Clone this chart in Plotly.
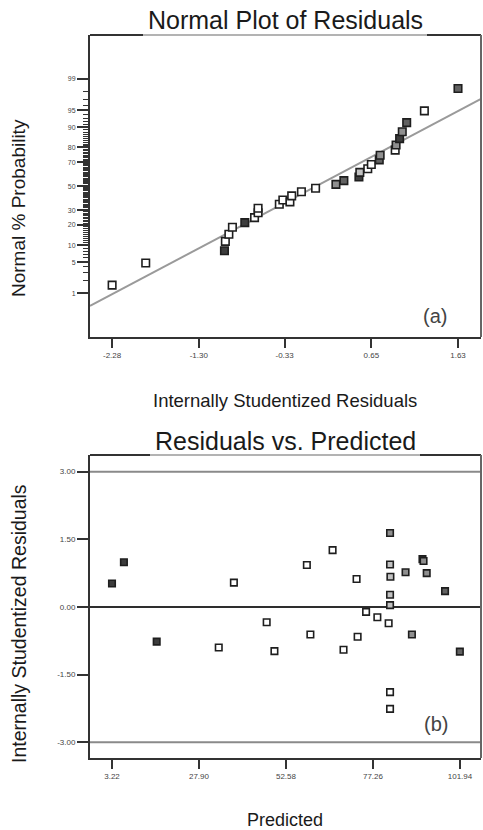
import plotly.graph_objects as go
from statistics import NormalDist

_nd = NormalDist()


def zq(p):
    return _nd.inv_cdf(p / 100.0)


# ---------------- (a) Normal plot of residuals ----------------
np_resid = [-2.28, -1.90, -1.01, -1.00, -0.96, -0.92, -0.78, -0.67, -0.63, -0.63,
            -0.39, -0.35, -0.27, -0.25, -0.14, 0.02, 0.25, 0.34, 0.51, 0.52,
            0.61, 0.65, 0.74, 0.75, 0.92, 0.93, 0.97, 1.00, 1.05, 1.25, 1.63]
np_prob = [1.6, 4.8, 8.1, 11.6, 14.9, 18.7, 21.5, 24.8, 28.3, 31.6,
           34.8, 38.2, 36.7, 41.7, 45.2, 48.2, 51.6, 54.8, 57.9, 61.8,
           64.8, 68.1, 71.6, 74.9, 78.3, 81.4, 84.9, 88.1, 91.6, 94.9, 98.3]
np_shade = ["W", "W", "K", "W", "W", "W", "K", "W", "W", "W",
            "W", "W", "W", "W", "W", "W", "G", "D", "K", "L",
            "W", "W", "D", "G", "W", "G", "K", "G", "D", "W", "D"]
fit_resid = [-2.53, 1.89]
fit_prob = [0.47, 97.1]
prob_ticks = [1, 5, 10, 20, 30, 50, 70, 80, 90, 95, 99]
prob_minor = [p for p in range(2, 99) if p not in prob_ticks]
resid_ticks = [-2.28, -1.30, -0.33, 0.65, 1.63]

# ---------------- (b) Residuals vs. predicted ----------------
pred = [3.22, 6.6, 15.9, 33.5, 37.8, 47.1, 49.3, 58.5, 59.5, 65.8,
        68.9, 72.6, 72.9, 75.3, 78.5, 81.7, 82.1, 82.1, 82.2, 82.1,
        82.1, 82.1, 82.1, 86.5, 88.3, 91.3, 91.6, 92.5, 97.7, 101.9]
rvp_resid = [0.52, 0.99, -0.77, -0.90, 0.54, -0.34, -0.98, 0.93, -0.61, 1.26,
             -0.95, 0.62, -0.66, -0.11, -0.23, -0.36, 1.64, 0.94, 0.67, 0.27,
             0.04, -1.89, -2.26, 0.77, -0.61, 1.06, 1.02, 0.75, 0.35, -0.99]
rvp_shade = ["K", "K", "K", "W", "W", "W", "W", "W", "W", "W",
             "W", "W", "W", "W", "W", "W", "G", "L", "L", "L",
             "L", "W", "W", "G", "G", "K", "G", "G", "D", "D"]
pred_ticks = [3.22, 27.90, 52.58, 77.26, 101.94]
rvp_ticks = [-3.00, -1.50, 0.00, 1.50, 3.00]
limit_lines = [3.00, -3.00]
center_line = [0.00]

SHADES = {"W": "#ffffff", "L": "#c2c2c2", "G": "#8f8f8f", "D": "#626262", "K": "#3c3c3c"}
FONT = "Liberation Sans, Arial, sans-serif"
W, H = 483, 830


def px_x(v):
    return v / W


def px_y(v):
    return 1 - v / H


fig = go.Figure()

# normal plot fit line
fig.add_trace(go.Scatter(
    x=fit_resid, y=[zq(p) for p in fit_prob], mode="lines",
    line=dict(color="#9a9a9a", width=2), xaxis="x", yaxis="y",
    hoverinfo="skip", showlegend=False))

fig.add_trace(go.Scatter(
    x=np_resid, y=[zq(p) for p in np_prob], mode="markers",
    marker=dict(symbol="square", size=7.5,
                color=[SHADES[s] for s in np_shade],
                line=dict(color="#1e1e1e", width=1.6)),
    xaxis="x", yaxis="y", showlegend=False))

# residuals vs predicted reference lines
for v in limit_lines:
    fig.add_trace(go.Scatter(
        x=[-3.02, 107.9], y=[v, v], mode="lines",
        line=dict(color="#8a8a8a", width=2), xaxis="x2", yaxis="y2",
        hoverinfo="skip", showlegend=False))
for v in center_line:
    fig.add_trace(go.Scatter(
        x=[-3.02, 107.9], y=[v, v], mode="lines",
        line=dict(color="#2e2e2e", width=2), xaxis="x2", yaxis="y2",
        hoverinfo="skip", showlegend=False))

fig.add_trace(go.Scatter(
    x=pred, y=rvp_resid, mode="markers",
    marker=dict(symbol="square", size=6.5,
                color=[SHADES[s] for s in rvp_shade],
                line=dict(color="#1e1e1e", width=1.6)),
    xaxis="x2", yaxis="y2", showlegend=False))

tickfont = dict(family=FONT, size=8, color="#444444")
xdom = [px_x(90), px_x(481)]

common_axis = dict(showgrid=False, zeroline=False, showline=True,
                   linecolor="#333333", linewidth=2, ticks="outside",
                   tickcolor="#333333", tickwidth=1.5, tickfont=tickfont,
                   fixedrange=True)

fig.update_layout(
    width=W, height=H,
    margin=dict(l=0, r=0, t=0, b=0),
    paper_bgcolor="white", plot_bgcolor="white",
    showlegend=False,
    xaxis=dict(domain=xdom, anchor="y", range=[-2.53, 1.89],
               tickmode="array", tickvals=resid_ticks,
               ticktext=["%.2f" % v for v in resid_ticks], ticklen=9,
               **common_axis),
    yaxis=dict(domain=[px_y(337), px_y(35)], anchor="x", range=[-3.27, 3.28],
               tickmode="array", tickvals=[zq(p) for p in prob_ticks],
               ticktext=[str(p) for p in prob_ticks], ticklen=11,
               minor=dict(tickmode="array", tickvals=[zq(p) for p in prob_minor],
                          ticks="outside", ticklen=5, tickcolor="#333333",
                          tickwidth=1, showgrid=False),
               **{k: v for k, v in common_axis.items() if k != "tickfont"},
               tickfont=dict(family=FONT, size=7, color="#444444")),
    xaxis2=dict(domain=xdom, anchor="y2", range=[-3.02, 107.9],
                tickmode="array", tickvals=pred_ticks,
                ticktext=["%.2f" % v for v in pred_ticks], ticklen=9,
                **common_axis),
    yaxis2=dict(domain=[px_y(758), px_y(455)], anchor="x2", range=[-3.35, 3.37],
                tickmode="array", tickvals=rvp_ticks,
                ticktext=["%.2f" % v for v in rvp_ticks], ticklen=11,
                **common_axis),
)

# frame pieces (top borders broken by titles, right borders)
shapes = []
for ya, title_x in (("y", (143, 427)), ("y2", (150, 420))):
    xa = "x" if ya == "y" else "x2"
    shapes += [
        dict(type="line", xref=f"{xa} domain", yref=f"{ya} domain",
             x0=0, x1=(title_x[0] - 90) / 391, y0=1, y1=1,
             line=dict(color="#333333", width=2), layer="above"),
        dict(type="line", xref=f"{xa} domain", yref=f"{ya} domain",
             x0=(title_x[0] - 90) / 391, x1=(title_x[1] - 90) / 391, y0=1, y1=1,
             line=dict(color="#9a9a9a", width=1.5), layer="above"),
        dict(type="line", xref=f"{xa} domain", yref=f"{ya} domain",
             x0=(title_x[1] - 90) / 391, x1=1, y0=1, y1=1,
             line=dict(color="#333333", width=2), layer="above"),
        dict(type="line", xref=f"{xa} domain", yref=f"{ya} domain",
             x0=1, x1=1, y0=0, y1=1,
             line=dict(color="#666666", width=2), layer="above"),
    ]
fig.update_layout(shapes=shapes)

ann = []
def add_text(text, x, y, size, angle=0, color="#1a1a1a"):
    ann.append(dict(text=text, x=px_x(x), y=px_y(y), xref="paper", yref="paper",
                    showarrow=False, xanchor="center", yanchor="middle",
                    textangle=angle, font=dict(family=FONT, size=size, color=color)))

add_text("Normal Plot of Residuals", 285, 20, 25)
add_text("Internally Studentized Residuals", 285, 401, 18.5)
add_text("Residuals vs. Predicted", 285, 441, 25)
add_text("Predicted", 285, 820, 18)
add_text("Normal % Probability", 19, 208, 19, angle=-90)
add_text("Internally Studentized Residuals", 19, 624, 19.5, angle=-90)
add_text("(a)", 435, 316, 20, color="#444444")
add_text("(b)", 436, 724, 20, color="#444444")
fig.update_layout(annotations=ann)

fig.write_html("out.html")
